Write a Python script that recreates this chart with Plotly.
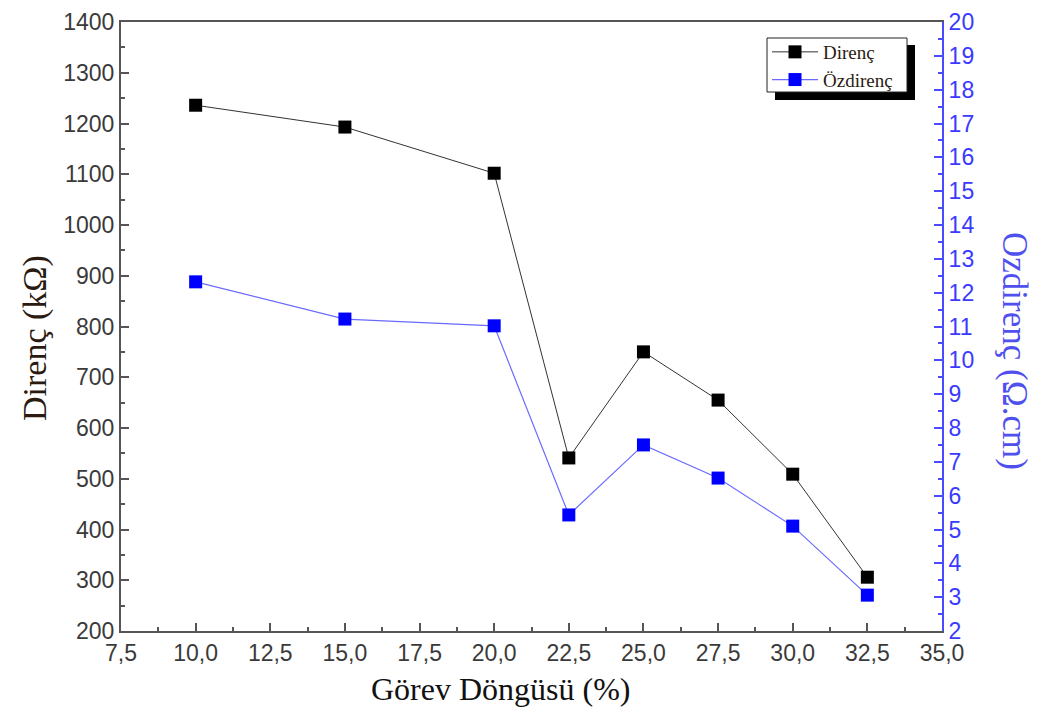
import plotly.graph_objects as go

duty = [10.0, 15.0, 20.0, 22.5, 25.0, 27.5, 30.0, 32.5]
direnc = [1236, 1193, 1102, 541, 750, 655, 509, 306]
ozdirenc = [12.32, 11.22, 11.02, 5.43, 7.50, 6.52, 5.10, 3.06]

BLUE_AX = "#4a4aff"
GRAY_AX = "#555555"
SERIF = "Liberation Serif, Times New Roman"

# page has an 8px body margin; plot area in page px: x 121..942, y 22..631
W, H = 1029, 701
PL, PR, PT, PB = 121, 942, 22, 631
def px(x):
    return (x - PL) / (PR - PL)
def py(y):
    return (PB - y) / (PB - PT)

fig = go.Figure()
fig.add_trace(go.Scatter(
    x=duty, y=direnc, name="Direnç", mode="lines+markers",
    line=dict(color="#333333", width=1),
    marker=dict(symbol="square", size=13, color="#000000"),
))
fig.add_trace(go.Scatter(
    x=duty, y=ozdirenc, name="Özdirenç", mode="lines+markers", yaxis="y2",
    line=dict(color="#6a6aff", width=1.2),
    marker=dict(symbol="square", size=13, color="#0000ff"),
))

tick_font = dict(family="Liberation Sans, Arial", size=23, color="#3a3a3a")

fig.update_layout(
    width=W, height=H,
    margin=dict(l=PL - 8, r=W - (PR - 8), t=PT - 8, b=H - (PB - 8)),
    paper_bgcolor="white", plot_bgcolor="white",
    separators=",.",
    showlegend=True,
    legend=dict(
        x=px(767), y=py(33), xanchor="left", yanchor="top",
        bgcolor="rgba(0,0,0,0)", borderwidth=0,
        font=dict(family=SERIF, size=19, color="#2a1a10"),
        itemwidth=46, tracegroupgap=0,
    ),
    xaxis=dict(
        range=[7.5, 35.0], dtick=2.5, tick0=7.5, tickformat=".1f",
        showgrid=False, zeroline=False, automargin=False,
        showline=True, linecolor=GRAY_AX, linewidth=2, mirror=True,
        ticks="inside", ticklen=8, tickwidth=2, tickcolor=GRAY_AX,
        minor=dict(ticks="inside", ticklen=4, tickwidth=2, tickcolor=GRAY_AX, dtick=1.25, tick0=7.5),
        tickfont=tick_font,
    ),
    yaxis=dict(
        range=[200, 1400], dtick=100, tick0=200,
        showgrid=False, zeroline=False, automargin=False,
        showline=True, linecolor=GRAY_AX, linewidth=2,
        ticks="inside", ticklen=8, tickwidth=2, tickcolor=GRAY_AX,
        minor=dict(ticks="inside", ticklen=4, tickwidth=2, tickcolor=GRAY_AX, dtick=50),
        tickfont=tick_font,
    ),
    yaxis2=dict(
        range=[2, 20], dtick=1, tick0=2,
        overlaying="y", side="right", automargin=False,
        showgrid=False, zeroline=False,
        showline=True, linecolor=BLUE_AX, linewidth=2,
        ticks="inside", ticklen=8, tickwidth=2, tickcolor=BLUE_AX,
        minor=dict(ticks="inside", ticklen=4, tickwidth=2, tickcolor=BLUE_AX, dtick=0.5),
        tickfont=dict(family="Liberation Sans, Arial", size=23, color="#3a3aff"),
    ),
)

# axis titles (placed where the reference has them)
fig.add_annotation(text="Görev Döngüsü (%)", xref="paper", yref="paper",
                   x=px(501), y=py(689), xanchor="center", yanchor="middle",
                   showarrow=False, font=dict(family=SERIF, size=32, color="#111111"))
fig.add_annotation(text="Direnç (kΩ)", xref="paper", yref="paper",
                   x=px(35), y=py(338), xanchor="center", yanchor="middle", textangle=-90,
                   showarrow=False, font=dict(family=SERIF, size=34, color="#2a1a10"))
fig.add_annotation(text="Özdirenç (Ω.cm)", xref="paper", yref="paper",
                   x=px(1015), y=py(351), xanchor="center", yanchor="middle", textangle=90,
                   showarrow=False, font=dict(family=SERIF, size=35, color="#5050ee"))

# legend drop shadow and frame
fig.add_shape(type="rect", xref="paper", yref="paper",
              x0=px(775), x1=px(915), y0=py(100), y1=py(45),
              fillcolor="black", line=dict(width=0), layer="above")
fig.add_shape(type="rect", xref="paper", yref="paper",
              x0=px(767), x1=px(907), y0=py(92), y1=py(38),
              fillcolor="white", line=dict(color="#222222", width=1), layer="above")

fig.write_html("out.html")
